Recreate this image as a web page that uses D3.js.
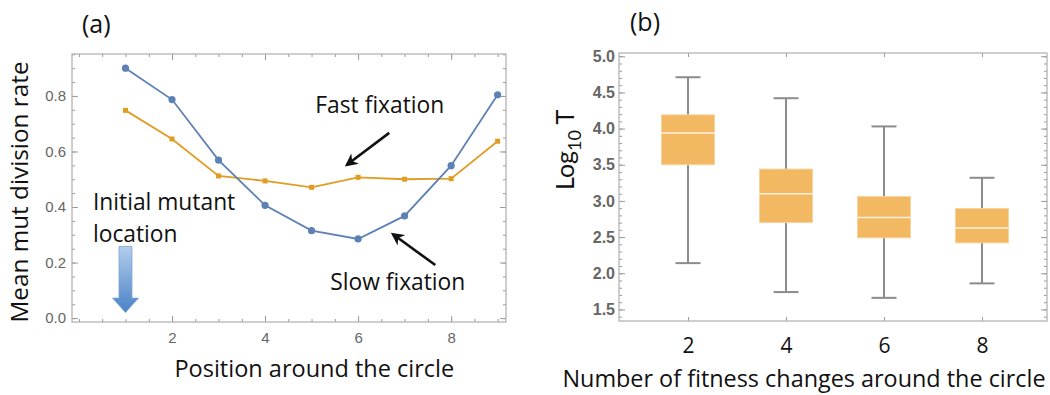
<!DOCTYPE html>
<html lang="en">
<head>
  <meta charset="utf-8">
  <script src="https://cdn.jsdelivr.net/npm/d3@7"></script>
  <style>
    body { margin: 0; background: #fff; }
    svg { display: block; }
    .frame { fill: none; stroke: #b4b4b4; stroke-width: 1.3; }
    .axis path { display: none; }
    .axis line { stroke: #9a9a9a; }
    .axis text { fill: #666; font-family: "Liberation Sans", Arial, sans-serif; font-size: 15px; }
    .lbl { font-family: "Open Sans", Lato, sans-serif; fill: #111; }
  </style>
</head>
<body>
  <svg id="chart" width="1050" height="395"></svg>
  <script>
    // ---- panel (a) data
    var positions = [1, 2, 3, 4, 5, 6, 7, 8, 9];
    var slowRate = [0.900, 0.787, 0.569, 0.406, 0.315, 0.285, 0.368, 0.549, 0.804];
    var fastRate = [0.748, 0.645, 0.512, 0.494, 0.471, 0.507, 0.500, 0.502, 0.637];
    var aTicksY = [0, 0.2, 0.4, 0.6, 0.8];
    var aTicksX = [2, 4, 6, 8];

    // ---- panel (b) data
    var changes = ['2', '4', '6', '8'];
    var whiskLo = [2.14, 1.74, 1.66, 1.86];
    var q1 = [3.50, 2.70, 2.49, 2.42];
    var median = [3.94, 3.10, 2.77, 2.625];
    var q3 = [4.19, 3.44, 3.06, 2.895];
    var whiskHi = [4.71, 4.42, 4.03, 3.32];
    var bTicksY = [1.5, 2.0, 2.5, 3.0, 3.5, 4.0, 4.5, 5.0];

    var blue = '#5e81b5', orange = '#e19c24';
    var svg = d3.select('#chart');

    // gradient for the big blue arrow
    var defs = svg.append('defs');
    var grad = defs.append('linearGradient').attr('id', 'blueGrad')
      .attr('x1', 0).attr('y1', 0).attr('x2', 0).attr('y2', 1);
    grad.append('stop').attr('offset', '0%').attr('stop-color', '#b2cdec');
    grad.append('stop').attr('offset', '100%').attr('stop-color', '#4a82c7');
    defs.append('marker').attr('id', 'head')
      .attr('viewBox', '0 0 10 10').attr('refX', 8).attr('refY', 5)
      .attr('markerWidth', 5).attr('markerHeight', 5)
      .attr('markerUnits', 'strokeWidth').attr('orient', 'auto')
      .append('path').attr('d', 'M0,0 L10,5 L0,10 L3,5 Z').attr('fill', '#111');

    // ================= panel (a) =================
    var A = { left: 72, top: 54, width: 434, height: 268 };
    var ax = d3.scaleLinear().domain([-0.15, 9.18]).range([0, A.width]);
    var ay = d3.scaleLinear().domain([-0.014, 0.951]).range([A.height, 0]);
    var ga = svg.append('g').attr('transform', 'translate(' + A.left + ',' + A.top + ')');

    // minor ticks
    var minorX = d3.range(0, 9.01, 0.5), minorY = d3.range(0, 0.951, 0.05);
    ga.append('g').attr('class', 'axis').attr('transform', 'translate(0,' + A.height + ')')
      .call(d3.axisBottom(ax).tickValues(minorX).tickSize(-3).tickFormat(''));
    ga.append('g').attr('class', 'axis')
      .call(d3.axisTop(ax).tickValues(minorX).tickSize(-3).tickFormat(''));
    ga.append('g').attr('class', 'axis')
      .call(d3.axisLeft(ay).tickValues(minorY).tickSize(-3).tickFormat(''));
    ga.append('g').attr('class', 'axis').attr('transform', 'translate(' + A.width + ',0)')
      .call(d3.axisRight(ay).tickValues(minorY).tickSize(-3).tickFormat(''));
    // major ticks
    ga.append('g').attr('class', 'axis').attr('transform', 'translate(0,' + A.height + ')')
      .call(d3.axisBottom(ax).tickValues(aTicksX).tickSize(-6).tickPadding(10).tickFormat(d3.format('d')));
    ga.append('g').attr('class', 'axis')
      .call(d3.axisTop(ax).tickValues(aTicksX).tickSize(-6).tickFormat(''));
    ga.append('g').attr('class', 'axis')
      .call(d3.axisLeft(ay).tickValues(aTicksY).tickSize(-6).tickPadding(6).tickFormat(d3.format('.1f')));
    ga.append('g').attr('class', 'axis').attr('transform', 'translate(' + A.width + ',0)')
      .call(d3.axisRight(ay).tickValues(aTicksY).tickSize(-6).tickFormat(''));
    ga.append('rect').attr('class', 'frame').attr('width', A.width).attr('height', A.height);

    var line = d3.line().x(function (d, i) { return ax(positions[i]); }).y(function (d) { return ay(d); });
    ga.append('path').datum(fastRate).attr('d', line).attr('fill', 'none').attr('stroke', orange).attr('stroke-width', 1.8);
    ga.append('path').datum(slowRate).attr('d', line).attr('fill', 'none').attr('stroke', blue).attr('stroke-width', 1.8);
    ga.selectAll('.sq').data(fastRate).enter().append('rect').attr('class', 'sq')
      .attr('x', function (d, i) { return ax(positions[i]) - 2.5; })
      .attr('y', function (d) { return ay(d) - 2.5; })
      .attr('width', 5).attr('height', 5).attr('fill', orange);
    ga.selectAll('.dot').data(slowRate).enter().append('circle').attr('class', 'dot')
      .attr('cx', function (d, i) { return ax(positions[i]); })
      .attr('cy', function (d) { return ay(d); })
      .attr('r', 3.6).attr('fill', blue);

    // annotations (placed in data coordinates)
    function txt(g, x, y, s, size) {
      return g.append('text').attr('class', 'lbl').attr('x', x).attr('y', y)
        .style('font-size', size + 'px').text(s);
    }
    txt(ga, ax(5.08), ay(0.739), 'Fast fixation', 22.8);
    txt(ga, ax(5.40), ay(0.101), 'Slow fixation', 22.8);
    txt(ga, ax(0.30), ay(0.389), 'Initial mutant', 22.8);
    txt(ga, ax(0.30), ay(0.274), 'location', 22.8);
    ga.append('line').attr('x1', ax(6.67)).attr('y1', ay(0.667)).attr('x2', ax(5.76)).attr('y2', ay(0.552))
      .attr('stroke', '#111').attr('stroke-width', 2.6).attr('marker-end', 'url(#head)');
    ga.append('line').attr('x1', ax(7.66)).attr('y1', ay(0.191)).attr('x2', ax(6.75)).attr('y2', ay(0.302))
      .attr('stroke', '#111').attr('stroke-width', 2.6).attr('marker-end', 'url(#head)');

    // big blue arrow pointing at position 1
    var arrX = ax(1), arrTop = ay(0.258), arrNeck = ay(0.072), arrTip = ay(0.020);
    ga.append('path')
      .attr('d', 'M' + (arrX - 6.5) + ',' + arrTop + 'L' + (arrX + 6.5) + ',' + arrTop +
        'L' + (arrX + 6.5) + ',' + arrNeck + 'L' + (arrX + 13) + ',' + arrNeck +
        'L' + arrX + ',' + arrTip + 'L' + (arrX - 13) + ',' + arrNeck +
        'L' + (arrX - 6.5) + ',' + arrNeck + 'Z')
      .attr('fill', 'url(#blueGrad)').attr('stroke', '#7fa6d6').attr('stroke-width', 0.8);

    txt(svg, 82, 33, '(a)', 25);
    txt(svg, A.left + ax(5.06), 377, 'Position around the circle', 23.5).attr('text-anchor', 'middle');
    svg.append('text').attr('class', 'lbl').attr('transform', 'translate(28,' + (A.top + A.height / 2 + 4) + ') rotate(-90)')
      .attr('text-anchor', 'middle').style('font-size', '24.3px').text('Mean mut division rate');

    // ================= panel (b) =================
    var B = { left: 619, top: 53, width: 428, height: 268 };
    var bx = d3.scalePoint().domain(changes).range([69, 363]);
    var by = d3.scaleLinear().domain([1.34, 5.045]).range([B.height, 0]);
    var gb = svg.append('g').attr('transform', 'translate(' + B.left + ',' + B.top + ')');

    var minorB = d3.range(1.4, 5.01, 0.1).map(function (v) { return Math.round(v * 10) / 10; });
    gb.append('g').attr('class', 'axis')
      .call(d3.axisLeft(by).tickValues(minorB).tickSize(-3).tickFormat(''));
    gb.append('g').attr('class', 'axis').attr('transform', 'translate(' + B.width + ',0)')
      .call(d3.axisRight(by).tickValues(minorB).tickSize(-3).tickFormat(''));
    gb.append('g').attr('class', 'axis')
      .call(d3.axisLeft(by).tickValues(bTicksY).tickSize(-6).tickPadding(4).tickFormat(d3.format('.1f')))
      .selectAll('text').style('font-weight', 'bold').style('font-size', '16px');
    gb.append('g').attr('class', 'axis').attr('transform', 'translate(' + B.width + ',0)')
      .call(d3.axisRight(by).tickValues(bTicksY).tickSize(-6).tickFormat(''));
    gb.append('g').attr('class', 'axis')
      .call(d3.axisTop(bx).tickSize(-4).tickFormat(''));
    var bAxis = gb.append('g').attr('class', 'axis').attr('transform', 'translate(0,' + B.height + ')')
      .call(d3.axisBottom(bx).tickSize(-4).tickPadding(14));
    bAxis.selectAll('text').attr('class', 'lbl').style('font-size', '21px').style('fill', '#111')
      .style('font-family', '"Open Sans", sans-serif').attr('dy', '0.85em');
    gb.append('rect').attr('class', 'frame').attr('width', B.width).attr('height', B.height);

    var boxW = 53, capW = 25;
    var boxes = gb.selectAll('.box').data(changes).enter().append('g').attr('class', 'box')
      .attr('transform', function (d) { return 'translate(' + bx(d) + ',0)'; });
    boxes.append('line').attr('y1', function (d, i) { return by(whiskLo[i]); })
      .attr('y2', function (d, i) { return by(whiskHi[i]); })
      .attr('stroke', '#8c8c8c').attr('stroke-width', 2);
    boxes.append('line').attr('x1', -capW / 2).attr('x2', capW / 2)
      .attr('y1', function (d, i) { return by(whiskHi[i]); }).attr('y2', function (d, i) { return by(whiskHi[i]); })
      .attr('stroke', '#8c8c8c').attr('stroke-width', 2);
    boxes.append('line').attr('x1', -capW / 2).attr('x2', capW / 2)
      .attr('y1', function (d, i) { return by(whiskLo[i]); }).attr('y2', function (d, i) { return by(whiskLo[i]); })
      .attr('stroke', '#8c8c8c').attr('stroke-width', 2);
    boxes.append('rect').attr('x', -boxW / 2).attr('width', boxW)
      .attr('y', function (d, i) { return by(q3[i]); })
      .attr('height', function (d, i) { return by(q1[i]) - by(q3[i]); })
      .attr('fill', '#f2b862').attr('stroke', '#f7d3a0').attr('stroke-width', 1);
    boxes.append('line').attr('x1', -boxW / 2).attr('x2', boxW / 2)
      .attr('y1', function (d, i) { return by(median[i]); }).attr('y2', function (d, i) { return by(median[i]); })
      .attr('stroke', '#fff3e0').attr('stroke-width', 1.6);

    txt(svg, 630, 31, '(b)', 25);
    txt(svg, 804, 387, 'Number of fitness changes around the circle', 23.4).attr('text-anchor', 'middle');
    var yl = svg.append('text').attr('class', 'lbl').attr('transform', 'translate(574,190) rotate(-90)')
      .style('font-size', '25px').style('font-family', 'Lato, sans-serif');
    yl.append('tspan').text('Log');
    yl.append('tspan').attr('dy', 7).style('font-size', '18px').text('10');
    yl.append('tspan').attr('dy', -7).text(' T');
  </script>
</body>
</html>
